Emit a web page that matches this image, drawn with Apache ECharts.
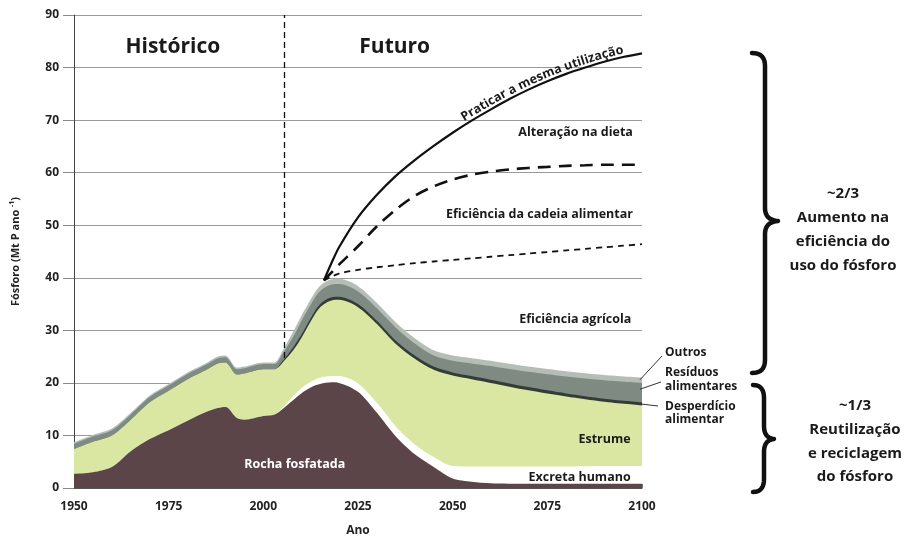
<!DOCTYPE html>
<html>
<head>
<meta charset="utf-8">
<script src="https://cdn.jsdelivr.net/npm/echarts@6/dist/echarts.min.js"></script>
<style>
html,body{margin:0;padding:0;background:#fff;}
#c{width:920px;height:542px;}
</style>
</head>
<body>
<div id="c"></div>
<script>
// ---------- data ----------
const years =      [1950,1955,1960,1965,1970,1975,1980,1985,1988,1990,1993,1995,2000,2003,2005,2008,2010,2013,2015,2018,2020,2025,2030,2035,2040,2045,2050,2055,2060,2070,2080,2090,2100];
const rocha =      [2.7, 3.0, 4.0, 7.0, 9.3, 11.0,12.8,14.5,15.2,15.4,13.3,13.0,13.7,14.0,15.0,16.8,18.0,19.3,19.8,20.1,20.0,18.3,14.3,9.8, 6.4, 4.0, 1.8, 1.2, 0.9, 0.8, 0.8, 0.8, 0.8];
const excreta =    [0,   0,   0,   0,   0,   0,   0,   0,   0,   0,   0,   0,   0,   0,   0.2, 0.8, 1.0, 1.1, 1.2, 1.2, 1.3, 1.6, 1.9, 1.9, 1.9, 1.9, 2.4, 2.9, 3.2, 3.3, 3.3, 3.4, 3.4];
const estrume =    [4.7, 5.8, 6.0, 6.0, 7.0, 7.5, 7.9, 8.0, 8.5, 8.5, 8.3, 8.8, 8.9, 8.6, 8.6, 8.7, 9.5, 11.9,13.4,14.4,14.5,14.5,15.0,15.7,16.3,16.6,17.2,16.6,15.9,14.5,13.3,12.2,11.5];
const desperdicio =[0,   0,   0,   0,   0,   0,   0,   0,   0,   0,   0,   0,   0,   0,   0.3, 0.6, 0.6, 0.6, 0.6, 0.6, 0.6, 0.6, 0.6, 0.6, 0.6, 0.6, 0.6, 0.6, 0.6, 0.6, 0.6, 0.6, 0.6];
const residuos =   [1.0, 1.0, 1.0, 1.0, 1.0, 1.0, 1.0, 1.0, 1.0, 1.0, 1.0, 1.0, 1.0, 1.0, 1.3, 2.0, 2.6, 2.6, 2.5, 2.4, 2.4, 2.4, 2.4, 2.5, 2.3, 2.1, 2.2, 2.4, 2.6, 2.9, 3.2, 3.5, 3.7];
const outros =     [0.3, 0.3, 0.3, 0.3, 0.3, 0.3, 0.3, 0.3, 0.3, 0.3, 0.3, 0.3, 0.3, 0.3, 0.6, 1.0, 1.0, 1.0, 1.0, 1.0, 1.0, 1.0, 1.0, 1.0, 1.0, 1.0, 1.0, 1.0, 1.0, 1.0, 1.0, 1.0, 1.0];

const scenYears =  [2016,2018,2020,2025,2030,2035,2040,2045,2050,2055,2060,2065,2070,2075,2080,2085,2090,2095,2100];
const mesmaUtil =  [39.5,42.8,45.8,51.5,55.8,59.4,62.4,65.1,67.6,69.9,72.0,74.0,75.8,77.4,78.8,80.0,81.1,82.0,82.7];
const dieta =      [39.5,41.0,42.5,46.0,49.8,53.0,55.6,57.4,58.7,59.6,60.2,60.6,60.9,61.1,61.3,61.4,61.5,61.5,61.5];
const cadeia =     [39.5,40.2,40.8,41.5,42.0,42.4,42.8,43.1,43.4,43.7,44.0,44.3,44.6,44.9,45.2,45.5,45.8,46.1,46.4];

const divisao = 2005.4;
const xTicks = [1950,1975,2000,2025,2050,2075,2100];
const yTicks = [0,10,20,30,40,50,60,70,80,90];

const FONT = '"Open Sans", "Noto Sans", sans-serif';

// layers bottom -> top
const layers = [
  ['Rocha fosfatada', rocha, '#5b4548'],
  ['Excreta humano', excreta, '#ffffff'],
  ['Estrume', estrume, '#d9e7a3'],
  ['Desperdício alimentar', desperdicio, '#333d36'],
  ['Resíduos alimentares', residuos, '#7f8b82'],
  ['Outros', outros, '#b4bdb6']
];
// cumulative tops
const tops = [];
layers.forEach((L,k)=>{
  tops.push(L[1].map((v,i)=> v + (k>0 ? tops[k-1][i] : 0)));
});

const chart = echarts.init(document.getElementById('c'), null, {renderer:'canvas'});

const areaSeries = layers.map((L,k)=>({
  name:L[0], type:'line', data: years.map((x,i)=>[x, +tops[k][i].toFixed(3)]),
  smooth:0.3, symbol:'none', showSymbol:false,
  lineStyle:{width:0}, areaStyle:{color:L[2], opacity:1}, itemStyle:{color:L[2]},
  z: 2 + (layers.length-k), silent:true
}));

function scen(name, vals, type, width){
  return {
    name, type:'line', data: scenYears.map((x,i)=>[x, vals[i]]), smooth:0.3,
    symbol:'none', showSymbol:false,
    lineStyle:{color:'#111', width, type}, z:12, silent:true
  };
}

chart.setOption({
  animation:false,
  backgroundColor:'#fff',
  grid:{left:68, right:278, top:15, bottom:53},
  xAxis:{
    type:'value', min:1950, max:2100, interval:25,
    name:'Ano', nameLocation:'middle', nameGap:37,
    nameTextStyle:{fontFamily:FONT, fontWeight:'bold', fontSize:12, color:'#222'},
    axisLine:{show:true, lineStyle:{color:'#555', width:1}},
    axisTick:{show:true, inside:true, length:4, lineStyle:{color:'#777'}},
    axisLabel:{fontFamily:FONT, fontWeight:'bold', fontSize:12, color:'#222', margin:13,
      formatter:v=>xTicks.includes(v)?String(v):''},
    splitLine:{show:false}
  },
  yAxis:{
    type:'value', min:0, max:90, interval:10,
    name:'Fósforo (Mt P ano {sup|-1})', nameLocation:'middle', nameGap:50, nameRotate:90,
    nameTextStyle:{fontFamily:FONT, fontWeight:'bold', fontSize:11, color:'#222', lineHeight:16,
      rich:{sup:{fontFamily:FONT, fontWeight:'bold', fontSize:7, color:'#222', verticalAlign:'top', lineHeight:16}}},
    axisLine:{show:true, lineStyle:{color:'#444', width:1}},
    axisTick:{show:true, length:11, lineStyle:{color:'#8a8a8a'}},
    axisLabel:{fontFamily:FONT, fontWeight:'bold', fontSize:12, color:'#222', margin:15,
      formatter:v=>yTicks.includes(v)?String(v):''},
    splitLine:{show:true, lineStyle:{color:'#9a9a9a', width:1}}
  },
  series: areaSeries.slice().reverse().concat([
    scen('Praticar a mesma utilização', mesmaUtil, 'solid', 2.2),
    scen('Alteração na dieta', dieta, [13,8], 2.6),
    scen('Eficiência da cadeia alimentar', cadeia, [6,5], 1.8),
    {
      name:'divisao', type:'line', data:[], z:14, silent:true,
      markLine:{symbol:'none', silent:true, animation:false, label:{show:false},
        lineStyle:{color:'#111', type:[6,4], width:1.3},
        data:[{xAxis:divisao}]}
    }
  ])
});

// ---------- annotations ----------
const px = (x,y)=>chart.convertToPixel({gridIndex:0},[x,y]);
const g = [];
function txt(x,y,text,opt){
  g.push({type:'text', x, y, z:20, silent:true, style:Object.assign({
    text, fontFamily:FONT, fontWeight:'bold', fontSize:12, fill:'#1a1a1a',
    align:'left', verticalAlign:'middle'}, opt||{})});
}
function dtxt(dx,dy,text,opt){ const p = px(dx,dy); txt(p[0],p[1],text,opt); }

dtxt(1976.1, 83.9, 'Histórico', {fontSize:21, align:'center'});
dtxt(2034.7, 83.9, 'Futuro', {fontSize:21, align:'center'});
dtxt(2097.6, 67.6, 'Alteração na dieta', {align:'right', fontSize:12.5});
dtxt(2097.6, 52.0, 'Eficiência da cadeia alimentar', {align:'right', fontSize:12.5});
dtxt(2097.2, 32.1, 'Eficiência agrícola', {align:'right', fontSize:12.5});
dtxt(2097.0, 9.3, 'Estrume', {align:'right', fontSize:12.5});
dtxt(2097.0, 2.1, 'Excreta humano', {align:'right', fontSize:12.5});
dtxt(2008.3, 4.4, 'Rocha fosfatada', {align:'center', fill:'#ffffff', fontSize:12.5});

// text along the "mesma utilização" curve
(function(){
  const pts = scenYears.map((x,i)=>px(x, mesmaUtil[i]));
  const dense = [];
  for(let i=0;i<pts.length-1;i++){
    const p0=pts[Math.max(0,i-1)], p1=pts[i], p2=pts[i+1], p3=pts[Math.min(pts.length-1,i+2)];
    for(let t=0;t<1;t+=0.05){
      const t2=t*t, t3=t2*t;
      const f=(a,b,c,d)=>0.5*((2*b)+(-a+c)*t+(2*a-5*b+4*c-d)*t2+(-a+3*b-3*c+d)*t3);
      dense.push([f(p0[0],p1[0],p2[0],p3[0]), f(p0[1],p1[1],p2[1],p3[1])]);
    }
  }
  dense.push(pts[pts.length-1]);
  const cum=[0];
  for(let i=1;i<dense.length;i++){
    cum.push(cum[i-1]+Math.hypot(dense[i][0]-dense[i-1][0], dense[i][1]-dense[i-1][1]));
  }
  function at(s){
    let i=1; while(i<cum.length-1 && cum[i]<s) i++;
    const a=dense[i-1], b=dense[i];
    const seg=cum[i]-cum[i-1]||1, t=(s-cum[i-1])/seg;
    return {x:a[0]+(b[0]-a[0])*t, y:a[1]+(b[1]-a[1])*t, ang:Math.atan2(b[1]-a[1], b[0]-a[0])};
  }
  const startX = px(2053.5, 0)[0];
  let s=0; for(let i=0;i<dense.length;i++){ if(dense[i][0]>=startX){ s=cum[i]; break; } }
  const fs = 12.5;
  const ctx=document.createElement('canvas').getContext('2d');
  ctx.font='bold '+fs+'px "Open Sans"';
  const label='Praticar a mesma utilização';
  for(const ch of label){
    const w=ctx.measureText(ch).width;
    const q=at(s+w/2);
    const nx=Math.sin(q.ang), ny=-Math.cos(q.ang);
    const off=7;
    g.push({type:'text', x:q.x+nx*off, y:q.y+ny*off, rotation:-q.ang, z:20, silent:true,
      style:{text:ch, fontFamily:FONT, fontWeight:'bold', fontSize:fs, fill:'#1a1a1a', align:'center', verticalAlign:'middle'}});
    s+=w;
  }
})();

// right-side labels with leader lines
function leader(v, x2, y2){
  const p=px(2100, v);
  g.push({type:'line', z:20, silent:true, shape:{x1:p[0]-2, y1:p[1], x2, y2}, style:{stroke:'#333', lineWidth:1}});
}
const last = years.length-1;
leader(tops[5][last]-0.4, 662, 356);
leader(tops[4][last]-1.2, 661, 382);
leader(tops[3][last]-0.3, 658, 406);
txt(665, 352.5, 'Outros');
txt(665, 373, 'Resíduos');
txt(665, 386.5, 'alimentares');
txt(665, 407, 'Desperdício');
txt(665, 420, 'alimentar');

// braces, as sampled quadratic curves
function brace(xL, xM, xT, yTop, yTip, yBot){
  const r = Math.min(13, (yTip-yTop)/3);
  const segs = [
    [[xL,yTop],[xM,yTop],[xM,yTop+r]],
    [[xM,yTop+r],[xM,yTop+r],[xM,yTip-r]],
    [[xM,yTip-r],[xM,yTip-1],[xT,yTip]],
    [[xT,yTip],[xM,yTip+1],[xM,yTip+r]],
    [[xM,yTip+r],[xM,yTip+r],[xM,yBot-r]],
    [[xM,yBot-r],[xM,yBot],[xL,yBot]]
  ];
  const pts=[];
  segs.forEach(([a,c,b])=>{
    for(let t=0;t<=1.0001;t+=0.1){
      const u=1-t;
      pts.push([u*u*a[0]+2*u*t*c[0]+t*t*b[0], u*u*a[1]+2*u*t*c[1]+t*t*b[1]]);
    }
  });
  g.push({type:'polyline', z:20, silent:true, shape:{points:pts},
    style:{stroke:'#111', lineWidth:4.5, fill:null, lineCap:'round', lineJoin:'round'}});
}
brace(752, 765, 778, 53, 221, 373);
brace(753, 764, 774, 385, 439, 492);

const big = {fontSize:15, align:'center'};
txt(843, 194, '~2/3', big);
txt(843, 218, 'Aumento na', big);
txt(843, 242, 'eficiência do', big);
txt(843, 266, 'uso do fósforo', big);
txt(855, 406, '~1/3', big);
txt(855, 430, 'Reutilização', big);
txt(855, 454, 'e reciclagem', big);
txt(855, 477, 'do fósforo', big);

chart.setOption({graphic:{elements:g}});
</script>
</body>
</html>
